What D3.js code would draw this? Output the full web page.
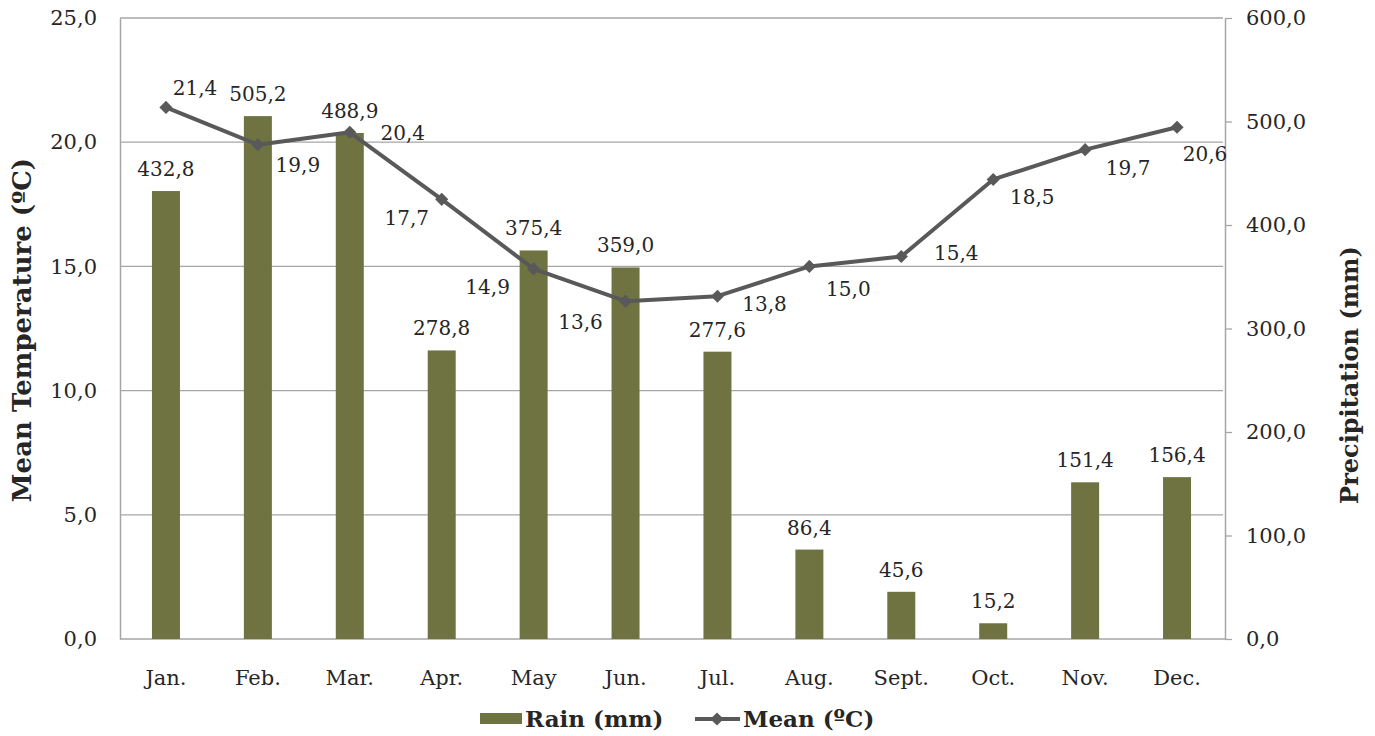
<!DOCTYPE html>
<html><head><meta charset="utf-8">
<script src="https://cdn.jsdelivr.net/npm/d3@7"></script>
<style>body{margin:0;background:#fff}svg{display:block}text{font-family:Georgia,"DejaVu Serif",serif;fill:#262626}</style>
</head><body><svg id="c" width="1375" height="736"></svg>
<script>
const months = ["Jan.","Feb.","Mar.","Apr.","May","Jun.","Jul.","Aug.","Sept.","Oct.","Nov.","Dec."];
const rain = [432.8,505.2,488.9,278.8,375.4,359.0,277.6,86.4,45.6,15.2,151.4,156.4];
const meanTemp = [21.4,19.9,20.4,17.7,14.9,13.6,13.8,15.0,15.4,18.5,19.7,20.6];
const tempTicks = [0,5,10,15,20,25];
const rainTicks = [0,100,200,300,400,500,600];
// label offsets for line data labels (layout)
const tempLabelOffsets = [[29,-19],[40,20],[53,1],[-35,19],[-46,18],[-45,21],[47,8],[39,23],[55,-3],[39,18],[43,18],[28,27]];

const fmt = v => v.toFixed(1).replace(".", ",");
const svg = d3.select("#c");
const L=120,R=1223,T=18,B=639;
const x = d3.scaleBand().domain(months).range([L,R]);
const yT = d3.scaleLinear().domain([0,25]).range([B,T]);
const yR = d3.scaleLinear().domain([0,600]).range([B,T]);
const FS=20;

// gridlines
svg.append("g").selectAll("line").data(tempTicks.filter(d=>d>0)).join("line")
  .attr("x1",L).attr("x2",R).attr("y1",d=>yT(d)).attr("y2",d=>yT(d))
  .attr("stroke","#a6a6a6").attr("stroke-width",1.3);

// left axis
const gl = svg.append("g").attr("transform",`translate(${L},0)`)
  .call(d3.axisLeft(yT).tickValues(tempTicks).tickFormat(fmt).tickSize(0).tickPadding(23));
gl.select(".domain").attr("stroke","#a6a6a6").attr("stroke-width",1.5);
gl.selectAll("text").style("font-size","21px").attr("fill","#262626");

// right axis
const gr = svg.append("g").attr("transform",`translate(${R+2},0)`)
  .call(d3.axisRight(yR).tickValues(rainTicks).tickFormat(fmt).tickSizeOuter(0).tickSizeInner(7).tickPadding(14));
gr.select(".domain").attr("stroke","#a6a6a6").attr("stroke-width",1.5);
gr.selectAll("line").attr("stroke","#a6a6a6").attr("stroke-width",1.3);
gr.selectAll("text").style("font-size","21px").attr("fill","#262626");

// bottom axis line
svg.append("line").attr("x1",L).attr("x2",R+2).attr("y1",B).attr("y2",B).attr("stroke","#a6a6a6").attr("stroke-width",1.5);
const gb = svg.append("g").attr("transform",`translate(0,${B})`)
  .call(d3.axisBottom(x).tickSize(0).tickPadding(31));
gb.select(".domain").remove();
gb.selectAll("text").style("font-size","21px").attr("fill","#262626");

// bars
const bw = 28;
svg.append("g").selectAll("rect").data(rain).join("rect")
  .attr("x",(d,i)=>x(months[i])+x.bandwidth()/2-bw/2).attr("width",bw)
  .attr("y",d=>yR(d)).attr("height",d=>B-yR(d)).attr("fill","#6f7342");
svg.append("g").selectAll("text").data(rain).join("text")
  .attr("x",(d,i)=>x(months[i])+x.bandwidth()/2).attr("y",d=>yR(d)-15)
  .attr("text-anchor","middle").style("font-size",FS+"px").text(fmt);

// line
const cx = i => x(months[i])+x.bandwidth()/2;
svg.append("path").datum(meanTemp)
  .attr("d",d3.line().x((d,i)=>cx(i)).y(d=>yT(d)))
  .attr("fill","none").attr("stroke","#595959").attr("stroke-width",4).attr("stroke-linejoin","round");
svg.append("g").selectAll("path").data(meanTemp).join("path")
  .attr("d",d3.symbol(d3.symbolDiamond2,110)())
  .attr("transform",(d,i)=>`translate(${cx(i)},${yT(d)})`).attr("fill","#595959");
svg.append("g").selectAll("text").data(meanTemp).join("text")
  .attr("x",(d,i)=>cx(i)+tempLabelOffsets[i][0]).attr("y",(d,i)=>yT(d)+tempLabelOffsets[i][1])
  .attr("dy","0.35em").attr("text-anchor","middle").style("font-size",FS+"px").text(fmt);

// axis titles
svg.append("text").attr("transform","translate(31,330) rotate(-90)").attr("text-anchor","middle")
  .style("font-size","26px").style("font-weight","bold").text("Mean Temperature (ºC)");
svg.append("text").attr("transform","translate(1358,375) rotate(-90)").attr("text-anchor","middle")
  .style("font-size","24px").style("font-weight","bold").text("Precipitation (mm)");

// legend
const lg = svg.append("g");
lg.append("rect").attr("x",480).attr("y",713).attr("width",42).attr("height",11).attr("fill","#6f7342");
lg.append("text").attr("x",525).attr("y",719).attr("dy","0.35em").style("font-size","23px").style("font-weight","bold").text("Rain (mm)");
lg.append("line").attr("x1",695).attr("x2",740).attr("y1",719).attr("y2",719).attr("stroke","#595959").attr("stroke-width",4);
lg.append("path").attr("d",d3.symbol(d3.symbolDiamond2,110)()).attr("transform","translate(717,719)").attr("fill","#595959");
lg.append("text").attr("x",743).attr("y",719).attr("dy","0.35em").style("font-size","23px").style("font-weight","bold").text("Mean (ºC)");
</script></body></html>
